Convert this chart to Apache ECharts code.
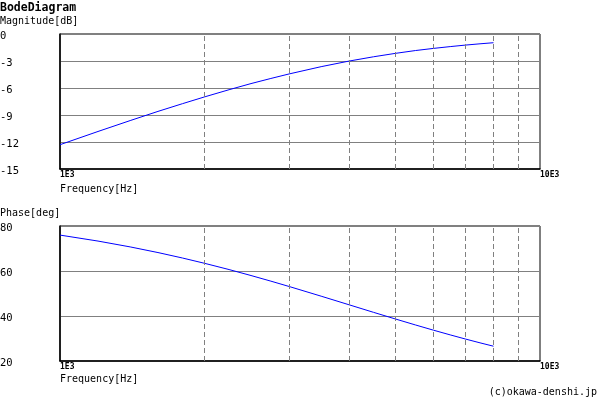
<!DOCTYPE html>
<html><head><meta charset="utf-8">
<script src="https://cdn.jsdelivr.net/npm/echarts@6/dist/echarts.min.js"></script>
<style>html,body{margin:0;padding:0;background:#fff}#c{width:600px;height:400px}</style>
</head><body><div id="c"></div>
<script>
const freq = [1000,1200,1400,1600,1800,2000,2250,2500,2750,3000,3500,4000,4500,5000,5500,6000,6500,7000,7500,8000];
const magnitude = [-12.30,-10.83,-9.62,-8.60,-7.74,-6.99,-6.19,-5.51,-4.94,-4.44,-3.63,-3.01,-2.53,-2.15,-1.84,-1.60,-1.40,-1.23,-1.09,-0.97];
const phase = [75.96,73.30,70.71,68.20,65.77,63.43,60.64,57.99,55.49,53.13,48.81,45.00,41.63,38.66,36.03,33.69,31.61,29.74,28.07,26.57];
const minorGrid = [2000,3000,4000,5000,6000,7000,8000,9000];
const xTickLabels = {1000:'1E3', 10000:'10E3'};

const FONT = '"DejaVu Sans Mono", monospace';
const chart = echarts.init(document.getElementById('c'), null, {renderer:'canvas'});

function xAx(i){
  return {type:'log', logBase:10, min:1000, max:10000, gridIndex:i,
    axisLine:{show:true, onZero:false, lineStyle:{color:'#000', width:1.5}},
    axisTick:{show:false}, splitLine:{show:false},
    axisLabel:{show:true, margin:2, align:'left', verticalAlign:'top', color:'#000', fontFamily:FONT, fontSize:8, fontWeight:'bold',
      showMinLabel:true, showMaxLabel:true,
      formatter:v=>xTickLabels[Math.round(v)]||''}};
}
function yAx(i,min,max,interval){
  return {type:'value', min, max, interval, gridIndex:i,
    axisLine:{show:true, lineStyle:{color:'#000', width:1.5}},
    axisTick:{show:false},
    splitLine:{show:true, lineStyle:{color:'#808080', width:1}},
    axisLabel:{margin:60, align:'left', verticalAlign:'top', lineHeight:5, color:'#000', fontFamily:FONT, fontSize:10.5}};
}
const ml = {symbol:'none', silent:true, label:{show:false},
  lineStyle:{color:'#808080', type:[5,3], width:1},
  data: minorGrid.map(f=>({xAxis:f}))};

chart.setOption({
  animation:false,
  backgroundColor:'#fff',
  title:[
    {text:'BodeDiagram', left:0, top:2, padding:0, textStyle:{fontFamily:FONT, fontSize:11.5, fontWeight:'bold', color:'#000'}},
    {text:'Magnitude[dB]', left:0, top:16, padding:0, textStyle:{fontFamily:FONT, fontSize:10, fontWeight:'normal', color:'#000'}},
    {text:'Frequency[Hz]', left:60, top:184, padding:0, textStyle:{fontFamily:FONT, fontSize:10, fontWeight:'normal', color:'#000'}},
    {text:'Phase[deg]', left:0, top:208, padding:0, textStyle:{fontFamily:FONT, fontSize:10, fontWeight:'normal', color:'#000'}},
    {text:'Frequency[Hz]', left:60, top:374, padding:0, textStyle:{fontFamily:FONT, fontSize:10, fontWeight:'normal', color:'#000'}},
    {text:'(c)okawa-denshi.jp', right:3, top:387, padding:0, textStyle:{fontFamily:FONT, fontSize:10, fontWeight:'normal', color:'#000'}}
  ],
  grid:[
    {left:60, right:60, top:34, height:135, outerBoundsMode:'none', containLabel:false, show:true, borderColor:'#000', borderWidth:1, backgroundColor:'transparent'},
    {left:60, right:60, top:226, height:135, outerBoundsMode:'none', containLabel:false, show:true, borderColor:'#000', borderWidth:1, backgroundColor:'transparent'}
  ],
  xAxis:[xAx(0), xAx(1)],
  yAxis:[yAx(0,-15,0,3), yAx(1,20,80,20)],
  series:[
    {type:'line', xAxisIndex:0, yAxisIndex:0, data:freq.map((f,i)=>[f,magnitude[i]]), showSymbol:false, smooth:false,
     lineStyle:{color:'#0000ff', width:1}, markLine:ml, z:3},
    {type:'line', xAxisIndex:1, yAxisIndex:1, data:freq.map((f,i)=>[f,phase[i]]), showSymbol:false, smooth:false,
     lineStyle:{color:'#0000ff', width:1}, markLine:ml, z:3}
  ]
});
</script></body></html>
